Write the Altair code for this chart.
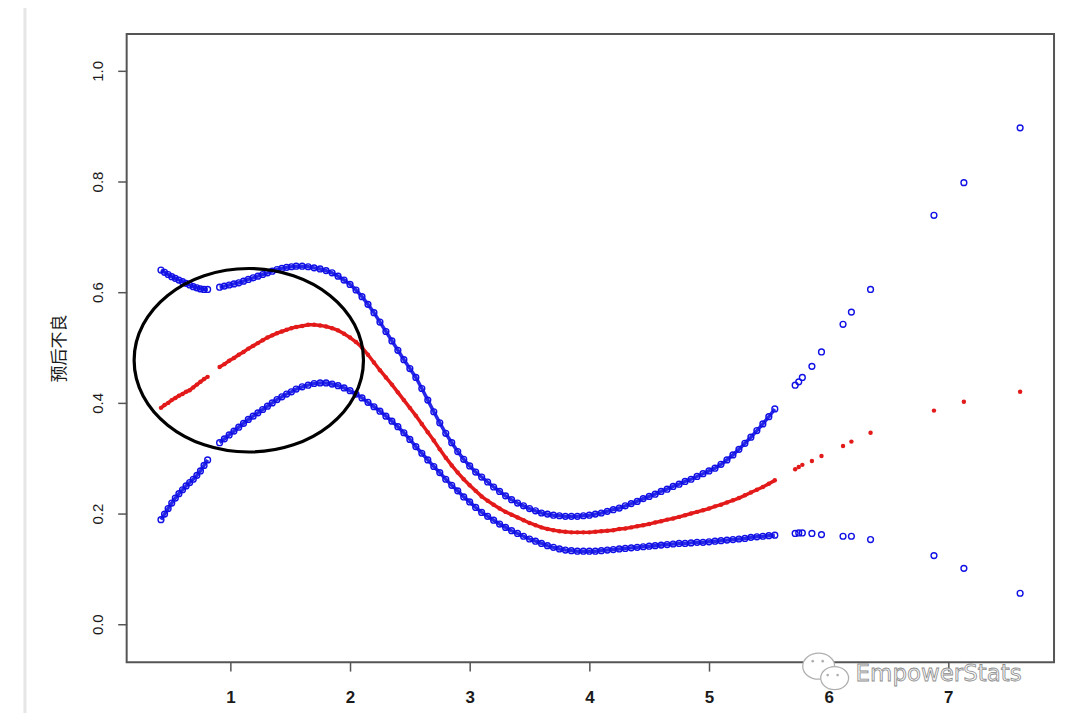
import altair as alt
import pandas as pd

# ---- data ----
x_vals = [0.42, 0.45, 0.48, 0.51, 0.54, 0.57, 0.60, 0.63, 0.66, 0.69, 0.72, 0.75, 0.78, 0.81,
          0.91, 0.95, 0.99, 1.03, 1.07, 1.11, 1.15, 1.19, 1.23, 1.27, 1.31, 1.35, 1.39, 1.43, 1.47, 1.51,
          1.55, 1.60, 1.65, 1.70, 1.75, 1.80, 1.85, 1.90, 1.95, 2.00, 2.05, 2.10, 2.15, 2.20, 2.25,
          2.30, 2.35, 2.40, 2.45, 2.50, 2.55, 2.60, 2.65, 2.70, 2.75, 2.80, 2.85, 2.90, 2.95, 3.00,
          3.05, 3.10, 3.15, 3.20, 3.25, 3.30, 3.35, 3.40, 3.45, 3.50, 3.55, 3.60, 3.65, 3.70, 3.75,
          3.80, 3.85, 3.90, 3.95, 4.00, 4.05, 4.10, 4.15, 4.20, 4.25, 4.30, 4.35, 4.40, 4.45, 4.50,
          4.55, 4.60, 4.65, 4.70, 4.75, 4.80, 4.85, 4.90, 4.95, 5.00, 5.05, 5.10, 5.15, 5.20, 5.25,
          5.30, 5.35, 5.40, 5.45, 5.50, 5.55,
          5.72, 5.75, 5.78, 5.86, 5.94, 6.12, 6.19, 6.35, 6.88, 7.13, 7.60]

upper_vals = [0.640, 0.636, 0.632, 0.628, 0.625, 0.622, 0.619, 0.616, 0.613, 0.610, 0.608, 0.606, 0.605, 0.605,
              0.609, 0.611, 0.613, 0.615, 0.617, 0.620, 0.623, 0.626, 0.629, 0.632, 0.635, 0.638, 0.641, 0.643, 0.645, 0.646,
              0.647, 0.647, 0.646, 0.644, 0.642, 0.639, 0.635, 0.629, 0.622, 0.614, 0.604, 0.592, 0.578, 0.563, 0.546,
              0.529, 0.512, 0.495, 0.478, 0.462, 0.446, 0.426, 0.405, 0.384, 0.364, 0.345, 0.328, 0.312, 0.298, 0.286,
              0.275, 0.266, 0.257, 0.248, 0.240, 0.232, 0.225, 0.219, 0.214, 0.209, 0.205, 0.201, 0.199, 0.197, 0.196,
              0.195, 0.195, 0.195, 0.196, 0.197, 0.199, 0.201, 0.204, 0.207, 0.210, 0.214, 0.218, 0.222, 0.227, 0.231,
              0.235, 0.240, 0.244, 0.249, 0.253, 0.258, 0.262, 0.267, 0.272, 0.277, 0.282, 0.289, 0.297, 0.306, 0.316,
              0.327, 0.338, 0.350, 0.362, 0.375, 0.389,
              0.432, 0.438, 0.446, 0.466, 0.492, 0.542, 0.564, 0.605, 0.739, 0.798, 0.897]

fit_vals = [0.391, 0.396, 0.400, 0.405, 0.409, 0.413, 0.416, 0.420, 0.423, 0.428, 0.433, 0.438, 0.443, 0.447,
            0.465, 0.470, 0.476, 0.481, 0.487, 0.492, 0.498, 0.503, 0.508, 0.513, 0.518, 0.522, 0.526, 0.529, 0.532, 0.535,
            0.537, 0.539, 0.541, 0.541, 0.540, 0.538, 0.535, 0.531, 0.525, 0.518, 0.510, 0.500, 0.487, 0.473, 0.459,
            0.446, 0.433, 0.419, 0.405, 0.391, 0.377, 0.362, 0.347, 0.332, 0.316, 0.301, 0.287, 0.274, 0.262, 0.251,
            0.241, 0.231, 0.223, 0.216, 0.209, 0.203, 0.198, 0.193, 0.188, 0.183, 0.179, 0.175, 0.172, 0.170, 0.168,
            0.167, 0.166, 0.166, 0.166, 0.166, 0.167, 0.168, 0.169, 0.170, 0.172, 0.173, 0.175, 0.177, 0.179, 0.181,
            0.184, 0.186, 0.189, 0.191, 0.194, 0.197, 0.200, 0.203, 0.206, 0.209, 0.213, 0.216, 0.220, 0.224, 0.228,
            0.233, 0.238, 0.243, 0.248, 0.254, 0.260,
            0.280, 0.284, 0.288, 0.295, 0.304, 0.322, 0.330, 0.346, 0.386, 0.402, 0.420]

lower_vals = [0.189, 0.199, 0.209, 0.219, 0.228, 0.236, 0.243, 0.250, 0.256, 0.262, 0.269, 0.277, 0.287, 0.297,
              0.328, 0.335, 0.342, 0.349, 0.356, 0.363, 0.370, 0.376, 0.382, 0.388, 0.394, 0.400, 0.406, 0.411, 0.416, 0.420,
              0.425, 0.429, 0.432, 0.435, 0.436, 0.436, 0.434, 0.431, 0.427, 0.422, 0.416, 0.409, 0.401, 0.393, 0.385,
              0.376, 0.367, 0.357, 0.346, 0.334, 0.321, 0.309, 0.297, 0.285, 0.274, 0.262, 0.251, 0.241, 0.230, 0.221,
              0.211, 0.202, 0.195, 0.188, 0.181, 0.175, 0.169, 0.164, 0.159, 0.154, 0.150, 0.146, 0.142, 0.139, 0.136,
              0.134, 0.133, 0.132, 0.132, 0.132, 0.132, 0.133, 0.134, 0.135, 0.136, 0.137, 0.138, 0.139, 0.140, 0.141,
              0.142, 0.143, 0.144, 0.145, 0.146, 0.146, 0.147, 0.148, 0.148, 0.149, 0.150, 0.151, 0.152, 0.153, 0.154,
              0.155, 0.157, 0.158, 0.159, 0.160, 0.161,
              0.164, 0.165, 0.165, 0.164, 0.162, 0.159, 0.159, 0.153, 0.124, 0.101, 0.056]

x_ticks = [1, 2, 3, 4, 5, 6, 7]
y_ticks = [0.0, 0.2, 0.4, 0.6, 0.8, 1.0]
y_title = "预后不良"
watermark = "EmpowerStats"

# annotation ellipse (centre in data units)
ellipse_x = [1.154]
ellipse_y = [0.477]

df = pd.DataFrame({"x": x_vals, "upper": upper_vals, "fit": fit_vals, "lower": lower_vals})
# dense runs of observations (the band look), split where the picture shows a gap
df["seg"] = ["a" if v < 0.85 else ("b" if v < 5.6 else "tail") for v in df["x"]]
one = pd.DataFrame({"k": [0]})

xscale = alt.Scale(domain=[0.1333, 7.8833], nice=False, zero=False)
yscale = alt.Scale(domain=[-0.0685, 1.0667], nice=False, zero=False)

xaxis = alt.Axis(values=x_ticks, format="d", title="", domain=False, grid=False,
                 tickSize=9, tickColor="#555555", tickWidth=1.5,
                 labelFont="Liberation Sans", labelFontSize=17, labelFontWeight="bold",
                 labelColor="#1a1a1a", labelPadding=18, labelOverlap=False, labelFlush=False)
yaxis = alt.Axis(values=y_ticks, format=".1f", title=y_title, domain=False, grid=False,
                 tickSize=9, tickColor="#555555", tickWidth=1.5,
                 labelFont="Liberation Sans", labelFontSize=15, labelColor="#1a1a1a",
                 labelAngle=270, labelAlign="center", labelBaseline="bottom", labelPadding=12,
                 labelOverlap=False, labelFlush=False,
                 titleFont="Noto Sans CJK SC", titleFontSize=17, titleFontWeight="normal",
                 titleColor="#1a1a1a", titleAngle=270, titleX=-67, titleY=315,
                 titleAlign="center", titleBaseline="middle")

BLUE = "#1010e6"
RED = "#e31a1a"
dense = alt.Chart(df).transform_filter("datum.seg != 'tail'")

band_up = dense.mark_line(color=BLUE, strokeWidth=3.5, opacity=0.9).encode(
    x=alt.X("x:Q", scale=xscale, axis=xaxis),
    y=alt.Y("upper:Q", scale=yscale, axis=yaxis),
    detail="seg:N",
)
band_lo = dense.mark_line(color=BLUE, strokeWidth=3.5, opacity=0.9).encode(
    x=alt.X("x:Q", scale=xscale), y=alt.Y("lower:Q", scale=yscale), detail="seg:N")
band_fit = dense.mark_line(color=RED, strokeWidth=3.5, opacity=1).encode(
    x=alt.X("x:Q", scale=xscale), y=alt.Y("fit:Q", scale=yscale), detail="seg:N")

upper = alt.Chart(df).mark_point(filled=False, color=BLUE, size=34, strokeWidth=1.4, opacity=1).encode(
    x=alt.X("x:Q", scale=xscale),
    y=alt.Y("upper:Q", scale=yscale),
)
lower = alt.Chart(df).mark_point(filled=False, color=BLUE, size=34, strokeWidth=1.4, opacity=1).encode(
    x=alt.X("x:Q", scale=xscale),
    y=alt.Y("lower:Q", scale=yscale),
)
fit = alt.Chart(df).mark_circle(color=RED, size=20, opacity=1).encode(
    x=alt.X("x:Q", scale=xscale),
    y=alt.Y("fit:Q", scale=yscale),
)

ELLIPSE = "M -1 0 A 1 0.8 0 1 1 1 0 A 1 0.8 0 1 1 -1 0 Z"
ell = alt.Chart(pd.DataFrame({"x": ellipse_x, "y": ellipse_y})).mark_point(
    shape=ELLIPSE, size=52900, filled=False, color="black", strokeWidth=3.2, opacity=1
).encode(x=alt.X("x:Q", scale=xscale), y=alt.Y("y:Q", scale=yscale))

# page edge line on the left
edge = alt.Chart(one).mark_rule(color="#e6e6e6", strokeWidth=3).encode(
    x=alt.value(-102), y=alt.value(-33), y2=alt.value(692))

# watermark (WeChat-like bubbles + text)
BUBBLE = "M -1 0 A 1 0.82 0 1 1 1 0 A 1 0.82 0 1 1 -1 0 Z"
b1 = alt.Chart(one).mark_point(shape=BUBBLE, size=1024, filled=True, fill="white", stroke="#b0b0b0",
                               strokeWidth=1.3, opacity=1, fillOpacity=1).encode(
    x=alt.value(694), y=alt.value(634))
b2 = alt.Chart(one).mark_point(shape=BUBBLE, size=784, filled=True, fill="white", stroke="#b0b0b0",
                               strokeWidth=1.3, opacity=1, fillOpacity=1).encode(
    x=alt.value(710), y=alt.value(646))
eyes = [
    alt.Chart(one).mark_circle(color="#b0b0b0", size=7, opacity=1).encode(x=alt.value(px), y=alt.value(py))
    for px, py in [(688, 629), (698, 629), (703, 643), (713, 643)]
]
wm = alt.Chart(pd.DataFrame({"t": [watermark]})).mark_text(
    align="left", baseline="middle", font="DejaVu Sans", fontSize=23,
    fill="#f7f7f7", stroke="#8c8c8c", strokeWidth=0.8
).encode(x=alt.value(731), y=alt.value(642), text="t:N")

chart = alt.layer(band_up, band_lo, band_fit, upper, lower, fit, ell, edge, b1, b2, *eyes, wm).properties(
    width=930, height=630,
    autosize=alt.AutoSizeParams(type="none"),
    padding={"left": 119, "top": 25, "right": 8, "bottom": 50},
    background="white",
).configure_view(stroke="#555555", strokeWidth=2)

chart.save("out.html", embed_options={"renderer": "svg", "actions": False})
